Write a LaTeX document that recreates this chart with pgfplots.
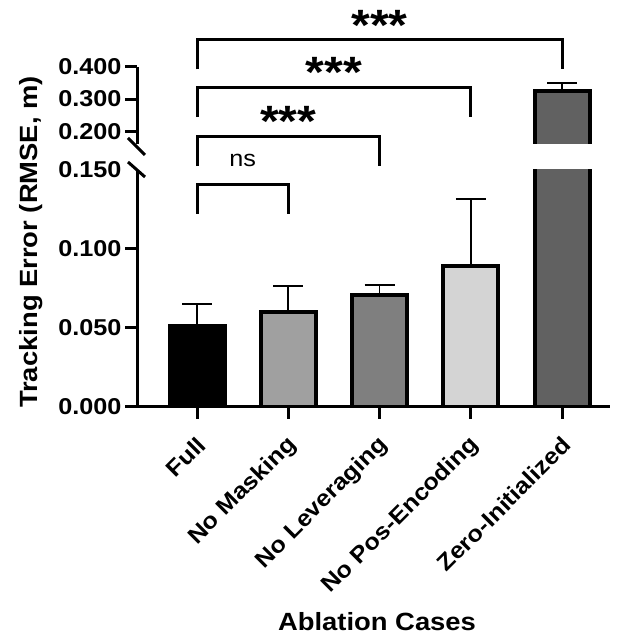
\documentclass[border=0pt]{standalone}
\usepackage{fontspec}
\setmainfont{Liberation Sans}[FakeStretch=1.1]
\usepackage{pgfplots}
\pgfplotsset{compat=1.18}
\definecolor{cMask}{HTML}{A0A0A0}
\definecolor{cLev}{HTML}{7F7F7F}
\definecolor{cPos}{HTML}{D4D4D4}
\definecolor{cZero}{HTML}{616161}
\newcommand\tickfont{\fontsize{23}{23}\selectfont\bfseries}
\newcommand\labfont{\fontsize{25}{25}\selectfont\bfseries}
\pgfplotsset{
  common/.style={scale only axis, width=473bp, xmin=-0.658, xmax=4.526,
    axis line style={line width=3bp, black},
    tick style={line width=3bp, black},
    major tick length=12bp, tick align=outside,
    yticklabel style={font=\tickfont},
    clip mode=individual},
  mybar/.style={ybar, bar width=55bp, bar shift=0pt, draw=black, line width=4bp, fill=#1,
    error bars/y dir=plus, error bars/y explicit,
    error bars/error bar style={line width=1.7bp, black},
    error bars/error mark options={rotate=90, line width=1.7bp, black, mark size=15bp}},
}
\begin{document}
\begin{tikzpicture}[x=1bp,y=1bp]
\useasboundingbox (0,0) rectangle (628,636);
% lower segment (0 to 0.150)
\begin{axis}[common, at={(137bp,229bp)}, anchor=south west, height=237bp,
  ymin=0, ymax=0.15, axis x line*=bottom, axis y line*=left,
  ytick={0,0.05,0.1}, yticklabels={0.000,0.050,0.100},
  extra y ticks={0.15}, extra y tick labels={0.150},
  extra y tick style={major tick length=0pt, yticklabel style={xshift=-12bp}},
  xtick={0,1,2,3,4},
  xticklabels={Full,No Masking,No Leveraging,No Pos-Encoding,Zero-Initialized},
  xticklabel style={font=\tickfont, rotate=45, anchor=east, yshift=-19bp, xshift=-9bp},
]
\addplot[mybar=black] coordinates {(0,0.0515) +- (0,0.0135)};
\addplot[mybar=cMask] coordinates {(1,0.0600) +- (0,0.0166)};
\addplot[mybar=cLev]  coordinates {(2,0.0706) +- (0,0.0064)};
\addplot[mybar=cPos]  coordinates {(3,0.0890) +- (0,0.0426)};
\addplot[mybar=cZero] coordinates {(4,0.3250) +- (0,0.0250)};
% significance brackets
\draw[line width=3bp] (axis cs:0,0.1222) |- (axis cs:1,0.1411) -- (axis cs:1,0.1222);
\draw[line width=3bp] (axis cs:0,0.1525) |- (axis cs:2,0.1715) -- (axis cs:2,0.1525);
\draw[line width=3bp] (axis cs:0,0.1835) |- (axis cs:3,0.2021) -- (axis cs:3,0.1835);
\draw[line width=3bp] (axis cs:0,0.2137) |- (axis cs:4,0.2327) -- (axis cs:4,0.2137);
\node[font=\fontsize{23}{23}\selectfont] at (axis cs:0.5,0.1563) {ns};
\node[font=\fontsize{44}{44}\selectfont\bfseries, anchor=base, inner sep=0pt] at (axis cs:1,0.1715) {***};
\node[font=\fontsize{44}{44}\selectfont\bfseries, anchor=base, inner sep=0pt] at (axis cs:1.5,0.2019) {***};
\node[font=\fontsize{44}{44}\selectfont\bfseries, anchor=base, inner sep=0pt] at (axis cs:2,0.2322) {***};
\end{axis}
% upper segment (0.200 to 0.400): Zero-Initialized bar = 0.150 (hidden base) + 0.175
\begin{axis}[common, at={(137bp,492bp)}, anchor=south west, height=77bp,
  ymin=0.16, ymax=0.4, axis x line=none, axis y line*=left,
  ytick={0.2,0.3,0.4}, yticklabels={0.200,0.300,0.400}, xtick=\empty,
  stack plots=y,
]
\addplot[ybar, bar width=55bp, bar shift=0pt, draw=none, fill=none] coordinates {(4,0.150)};
\addplot[mybar=cZero] coordinates {(4,0.175) +- (0,0.0250)};
\end{axis}
% axis break marks
\draw[line width=3bp] (128,498) -- (145,481);
\draw[line width=3bp] (128,474) -- (145,459);
% axis titles
\node[font=\labfont, rotate=90] at (31,394) {Tracking Error (RMSE, m)};
\node[font=\labfont] at (377,14) {Ablation Cases};
\end{tikzpicture}
\end{document}
